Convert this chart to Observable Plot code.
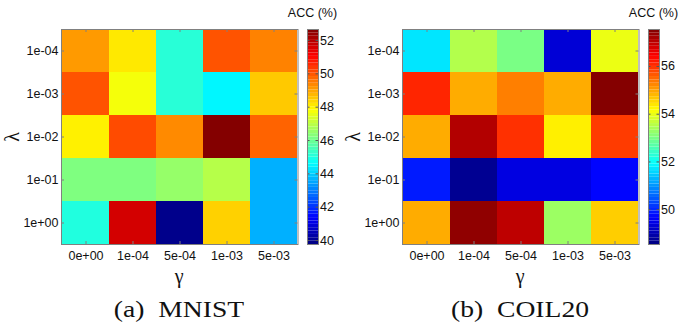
<!DOCTYPE html>
<html><head><meta charset="utf-8">
<script src="https://cdn.jsdelivr.net/npm/d3@7"></script>
<script src="https://cdn.jsdelivr.net/npm/@observablehq/plot@0.6"></script>
<style>
body{margin:0;background:#fff;}
#root{position:relative;width:695px;height:324px;overflow:hidden;font-family:"Liberation Sans",Arial,sans-serif;background:#fff;}
.panel{position:absolute;top:0;width:341px;height:324px;overflow:hidden;}
.abs{position:absolute;white-space:pre;line-height:1;}
.cbtitle{font-size:12.5px;color:#111;transform:translateX(-50%);}
.greek{font-family:"Liberation Serif","Times New Roman",serif;font-size:20px;color:#111;}
.caption{font-family:"Liberation Serif","Times New Roman",serif;font-size:23px;color:#111;transform:translateX(-50%) scaleX(1.2);}
</style></head><body><div id="root"></div>
<script>
// ---- data ----
const lambdas = ["1e-04", "1e-03", "1e-02", "1e-01", "1e+00"];
const gammas = ["0e+00", "1e-04", "5e-04", "1e-03", "5e-03"];
// rows follow lambdas, columns follow gammas
const mnistAcc = [
  [49.1, 48.1, 45.1, 50.0, 49.4],
  [50.0, 47.7, 45.1, 44.5, 48.5],
  [48.0, 50.1, 49.3, 52.6, 49.8],
  [46.2, 46.2, 46.5, 46.9, 43.6],
  [45.0, 51.6, 39.9, 48.4, 43.6]
];
const coilAcc = [
  [51.7, 53.5, 53.0, 49.3, 54.0],
  [56.1, 54.9, 55.3, 54.9, 57.5],
  [54.9, 57.1, 56.0, 54.3, 55.9],
  [49.9, 48.7, 49.4, 49.4, 49.7],
  [54.9, 57.4, 57.0, 53.3, 54.6]
];
const mnistRange = [39.76, 52.66];
const coilRange = [48.54, 57.55];
const mnistTicks = [40, 42, 44, 46, 48, 50, 52];
const coilTicks = [50, 52, 54, 56];
const captions = ["(a)  MNIST", "(b)  COIL20"];
const cbTitle = "ACC (%)";

// ---- helpers ----
function jet(t) {
  const c = v => Math.max(0, Math.min(1, v));
  const r = c(1.5 - Math.abs(4 * t - 3));
  const g = c(1.5 - Math.abs(4 * t - 2));
  const b = c(1.5 - Math.abs(4 * t - 1));
  return `rgb(${Math.round(r * 255)},${Math.round(g * 255)},${Math.round(b * 255)})`;
}
const PW = 341, H = 295, mT = 29, mB = 51, mL = 61, mR = 43.5;
const frameH = H - mT - mB, frameW = PW - mL - mR;
const axisColor = "#808080";

function panel(left, acc, range, ticks, caption) {
  const div = document.createElement("div");
  div.className = "panel";
  div.style.left = left + "px";
  document.getElementById("root").appendChild(div);

  const table = [];
  lambdas.forEach((l, i) => gammas.forEach((g, j) => table.push({lambda: l, gamma: g, acc: acc[i][j]})));
  const colorOpts = {type: "linear", domain: range, interpolate: jet, clamp: true};

  const heat = Plot.plot({
    width: PW, height: H,
    marginTop: mT, marginBottom: mB, marginLeft: mL, marginRight: mR,
    style: {fontFamily: '"Liberation Sans", Arial, sans-serif', fontSize: "12.5px", color: "#111", background: "transparent"},
    x: {type: "band", domain: gammas, padding: 0},
    y: {type: "band", domain: lambdas, padding: 0},
    color: colorOpts,
    marks: [
      Plot.cell(table, {x: "gamma", y: "lambda", fill: "acc", inset: 0}),
      Plot.tickX(gammas, {x: d => d, insetTop: frameH - 3, stroke: axisColor}),
      Plot.tickX(gammas, {x: d => d, insetBottom: frameH - 3, stroke: axisColor}),
      Plot.tickY(lambdas, {y: d => d, insetRight: frameW - 3, stroke: axisColor}),
      Plot.tickY(lambdas, {y: d => d, insetLeft: frameW - 3, stroke: axisColor}),
      Plot.frame({stroke: axisColor}),
      Plot.axisX({anchor: "bottom", tickSize: 0, tickPadding: 7, label: null}),
      Plot.axisY({anchor: "left", tickSize: 0, tickPadding: 3, label: null})
    ]
  });
  heat.style.position = "absolute";
  heat.style.left = "0px";
  heat.style.top = "0px";
  div.appendChild(heat);

  // colorbar
  const n = 64;
  const step = (range[1] - range[0]) / n;
  const slices = d3.range(n).map(i => range[0] + i * step);
  const cbLeft = 300, cbW = 41, cbmL = 7, cbBar = 11;
  const cb = Plot.plot({
    width: cbW, height: H,
    marginTop: mT, marginBottom: mB, marginLeft: cbmL, marginRight: cbW - cbmL - cbBar,
    style: {fontFamily: '"Liberation Sans", Arial, sans-serif', fontSize: "12.5px", color: "#111", background: "transparent", overflow: "visible"},
    x: {domain: [0, 1], axis: null},
    y: {domain: range},
    color: colorOpts,
    marks: [
      Plot.rect(slices, {x1: 0, x2: 1, y1: d => d, y2: d => d + step, fill: d => d + step / 2}),
      Plot.tickY(ticks, {y: d => d, insetLeft: cbBar - 2.5, stroke: "#555"}),
      Plot.tickY(ticks, {y: d => d, insetRight: cbBar - 2.5, stroke: "#555"}),
      Plot.frame({stroke: axisColor}),
      Plot.axisY(ticks, {anchor: "right", tickSize: 0, tickPadding: 1.5, label: null})
    ]
  });
  cb.style.position = "absolute";
  cb.style.left = cbLeft + "px";
  cb.style.top = "0px";
  div.appendChild(cb);

  const t = document.createElement("div");
  t.className = "abs cbtitle";
  t.textContent = cbTitle;
  t.style.left = (cbLeft + cbmL + cbBar / 2) + "px";
  t.style.top = "7px";
  div.appendChild(t);

  const cx = mL + frameW / 2;
  const g = document.createElement("div");
  g.className = "abs greek";
  g.textContent = "γ";
  g.style.left = cx + "px";
  g.style.top = "266px";
  g.style.transform = "translateX(-50%)";
  div.appendChild(g);

  const l = document.createElement("div");
  l.className = "abs greek";
  l.textContent = "λ";
  l.style.left = "12px";
  l.style.top = (mT + frameH / 2) + "px";
  l.style.transform = "translate(-50%,-50%) rotate(-90deg)";
  div.appendChild(l);

  const c = document.createElement("div");
  c.className = "abs caption";
  c.textContent = caption;
  c.style.left = cx + "px";
  c.style.top = "298px";
  div.appendChild(c);
}

panel(0, mnistAcc, mnistRange, mnistTicks, captions[0]);
panel(341, coilAcc, coilRange, coilTicks, captions[1]);
</script>
</body></html>
